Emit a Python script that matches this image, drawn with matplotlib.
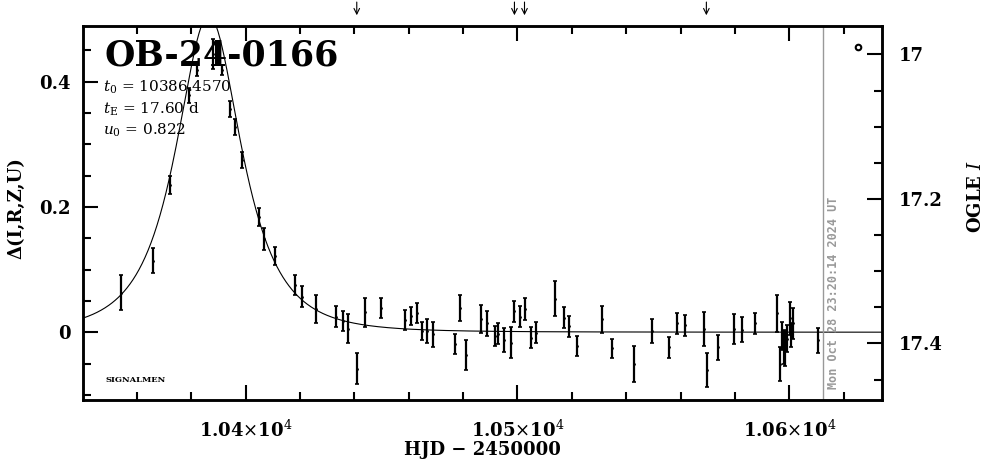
import numpy as np
import matplotlib
matplotlib.use("Agg")
import matplotlib.pyplot as plt
from matplotlib.ticker import MultipleLocator, FixedLocator, FixedFormatter

plt.rcParams['font.family'] = ['DejaVu Serif']
plt.rcParams['mathtext.fontset'] = 'dejavuserif'

# OGLE photometry, HJD - 2450000
hjd = [10354.3, 10366.0, 10372.1, 10379.2, 10382.2, 10388.0, 10391.2, 10394.2,
       10396.0, 10398.8, 10405.1, 10406.9, 10410.9, 10418.0, 10420.9, 10425.8,
       10433.1, 10436.0, 10437.7, 10441.0, 10444.1, 10449.9, 10458.8, 10460.8,
       10463.0, 10464.9, 10466.9, 10469.1, 10476.9, 10479.0, 10481.0, 10486.6,
       10488.8, 10491.6, 10493.0, 10494.9, 10497.6, 10498.9, 10500.8, 10502.9,
       10505.0, 10506.8, 10513.8, 10517.0, 10519.0, 10521.9, 10531.1, 10534.8,
       10542.7, 10549.5, 10555.6, 10558.7, 10561.5, 10568.8, 10569.7, 10573.7,
       10579.5, 10582.6, 10587.5, 10595.5, 10596.5, 10597.4, 10597.9, 10598.6,
       10599.2, 10600.2, 10600.7, 10601.3, 10610.5]
delta = [0.0628, 0.1142, 0.2343, 0.3786, 0.4185, 0.4441, 0.4185, 0.3558,
         0.3275, 0.2743, 0.1832, 0.1486, 0.1214, 0.0751, 0.0564, 0.0367,
         0.0244, 0.0176, 0.0059, -0.058, 0.0315, 0.0379, 0.0192, 0.0256,
         0.0299, 0.0016, 0.0021, -0.0032, -0.0187, 0.0379, -0.0363, 0.0212,
         0.0139, -0.0059, -0.0021, -0.0117, -0.0171, 0.0335, 0.0244, 0.0372,
         -0.0091, -0.0005, 0.0538, 0.0228, 0.0096, -0.0224, 0.0203, -0.026,
         -0.0511, 0.0016, -0.0244, 0.0139, 0.0107, 0.0053, -0.0607, -0.0244,
         0.0053, 0.0043, 0.0139, 0.0299, -0.0511, -0.0059, -0.0235, -0.026,
         -0.0101, 0.0219, -0.0048, 0.0139, -0.0128]
err = [0.028, 0.020, 0.0144, 0.012, 0.0096, 0.024, 0.008, 0.0128,
       0.0128, 0.0128, 0.0144, 0.0176, 0.0144, 0.016, 0.0168, 0.0224,
       0.0168, 0.016, 0.0224, 0.024, 0.0224, 0.016, 0.016, 0.0144,
       0.016, 0.0144, 0.0192, 0.020, 0.016, 0.0208, 0.024, 0.0224,
       0.0192, 0.016, 0.0168, 0.0192, 0.0248, 0.0168, 0.0168, 0.0176,
       0.0168, 0.016, 0.0272, 0.0168, 0.0168, 0.016, 0.0208, 0.0144,
       0.0288, 0.0192, 0.016, 0.016, 0.0168, 0.0272, 0.0272, 0.0192,
       0.024, 0.0192, 0.016, 0.0288, 0.0272, 0.0224, 0.0272, 0.0272,
       0.0208, 0.0256, 0.0192, 0.024, 0.020]

# fit parameters shown on the plot
t0 = 10386.4570
tE = 17.60
u0 = 0.822

arrow_hjd = [10440.9, 10498.9, 10502.6, 10569.5]
now_hjd = 10612.47
now_text = "Mon Oct 28 23:20:14 2024 UT"

xlim = (10340.2, 10634.1)
ylim = (-0.109, 0.4896)
maglim = (17.479, 16.960)

fig = plt.figure(figsize=(9.86, 4.59), dpi=100)
ax = fig.add_axes([0.0842, 0.1275, 0.8103, 0.8169])

# Paczynski curve
t = np.linspace(xlim[0], xlim[1], 800)
u = np.sqrt(u0**2 + ((t - t0) / tE)**2)
A = (u**2 + 2) / (u * np.sqrt(u**2 + 4))
ax.plot(t, A - 1, color='black', lw=0.8)

ax.errorbar(hjd, delta, yerr=err, fmt='.', color='black', markersize=2,
            elinewidth=1.6, capsize=1.5, capthick=1.2)

ax.axvline(now_hjd, color='#999999', lw=1)
ax.annotate(now_text, xy=(now_hjd, 0.03), xycoords=('data', 'axes fraction'),
            xytext=(3, 0), textcoords='offset points', rotation=90,
            ha='left', va='bottom', color='#999999', fontsize=8.5,
            fontweight='bold', family='DejaVu Sans Mono')

for a in arrow_hjd:
    ax.annotate('', xy=(a, 1.02), xytext=(a, 1.07),
                xycoords=('data', 'axes fraction'),
                arrowprops=dict(arrowstyle='->', color='black', lw=0.8),
                annotation_clip=False)

ax.plot([0.970], [0.943], 'o', mfc='none', mec='black', ms=4, mew=1.5,
        transform=ax.transAxes)

ax.set_xlim(xlim)
ax.set_ylim(ylim)

ax.text(0.027, 0.919, "OB-24-0166", transform=ax.transAxes, fontsize=25,
        fontweight='bold', va='center', ha='left')
ax.text(0.025, 0.835, r"$t_0$ = 10386.4570", transform=ax.transAxes,
        fontsize=11, va='center')
ax.text(0.025, 0.777, r"$t_\mathrm{E}$ = 17.60 d", transform=ax.transAxes,
        fontsize=11, va='center')
ax.text(0.025, 0.720, r"$u_0$ = 0.822", transform=ax.transAxes,
        fontsize=11, va='center')
ax.text(0.028, 0.055, "SIGNALMEN", transform=ax.transAxes, fontsize=6,
        fontweight='bold', va='center')

ax.xaxis.set_major_locator(FixedLocator([10400, 10500, 10600]))
ax.xaxis.set_major_formatter(FixedFormatter([r"1.04$\times$10$^4$",
                                             r"1.05$\times$10$^4$",
                                             r"1.06$\times$10$^4$"]))
ax.xaxis.set_minor_locator(MultipleLocator(20))
ax.yaxis.set_major_locator(FixedLocator([0, 0.2, 0.4]))
ax.yaxis.set_major_formatter(FixedFormatter(["0", "0.2", "0.4"]))
ax.yaxis.set_minor_locator(MultipleLocator(0.05))
ax.tick_params(which='both', direction='in', top=True, right=False, width=1.5)
ax.tick_params(which='major', length=11, labelsize=13, pad=9)
ax.tick_params(axis='x', which='major', pad=14)
ax.tick_params(which='minor', length=6)
for lab in ax.get_xticklabels() + ax.get_yticklabels():
    lab.set_fontweight('bold')

ax.set_xlabel("HJD − 2450000", fontsize=13, fontweight='bold')
ax.xaxis.set_label_coords(0.5, -0.108)
ax.set_ylabel("Δ(I,R,Z,U)", fontsize=13, fontweight='bold')
ax.yaxis.set_label_coords(-0.072, 0.513)

ax2 = ax.twinx()
ax2.set_ylim(maglim)
ax2.yaxis.set_major_locator(FixedLocator([17.0, 17.2, 17.4]))
ax2.yaxis.set_major_formatter(FixedFormatter(["17", "17.2", "17.4"]))
ax2.yaxis.set_minor_locator(MultipleLocator(0.05))
ax2.tick_params(which='both', direction='in', width=1.5)
ax2.tick_params(which='major', length=11, labelsize=13, pad=12)
ax2.tick_params(which='minor', length=6)
for lab in ax2.get_yticklabels():
    lab.set_fontweight('bold')
ax2.set_ylabel(r"OGLE $\mathit{I}$", fontsize=13, fontweight='bold')
ax2.yaxis.set_label_coords(1.106, 0.543)

for a in (ax, ax2):
    for s in a.spines.values():
        s.set_linewidth(1.8)

fig.savefig("out.png", dpi=100)
